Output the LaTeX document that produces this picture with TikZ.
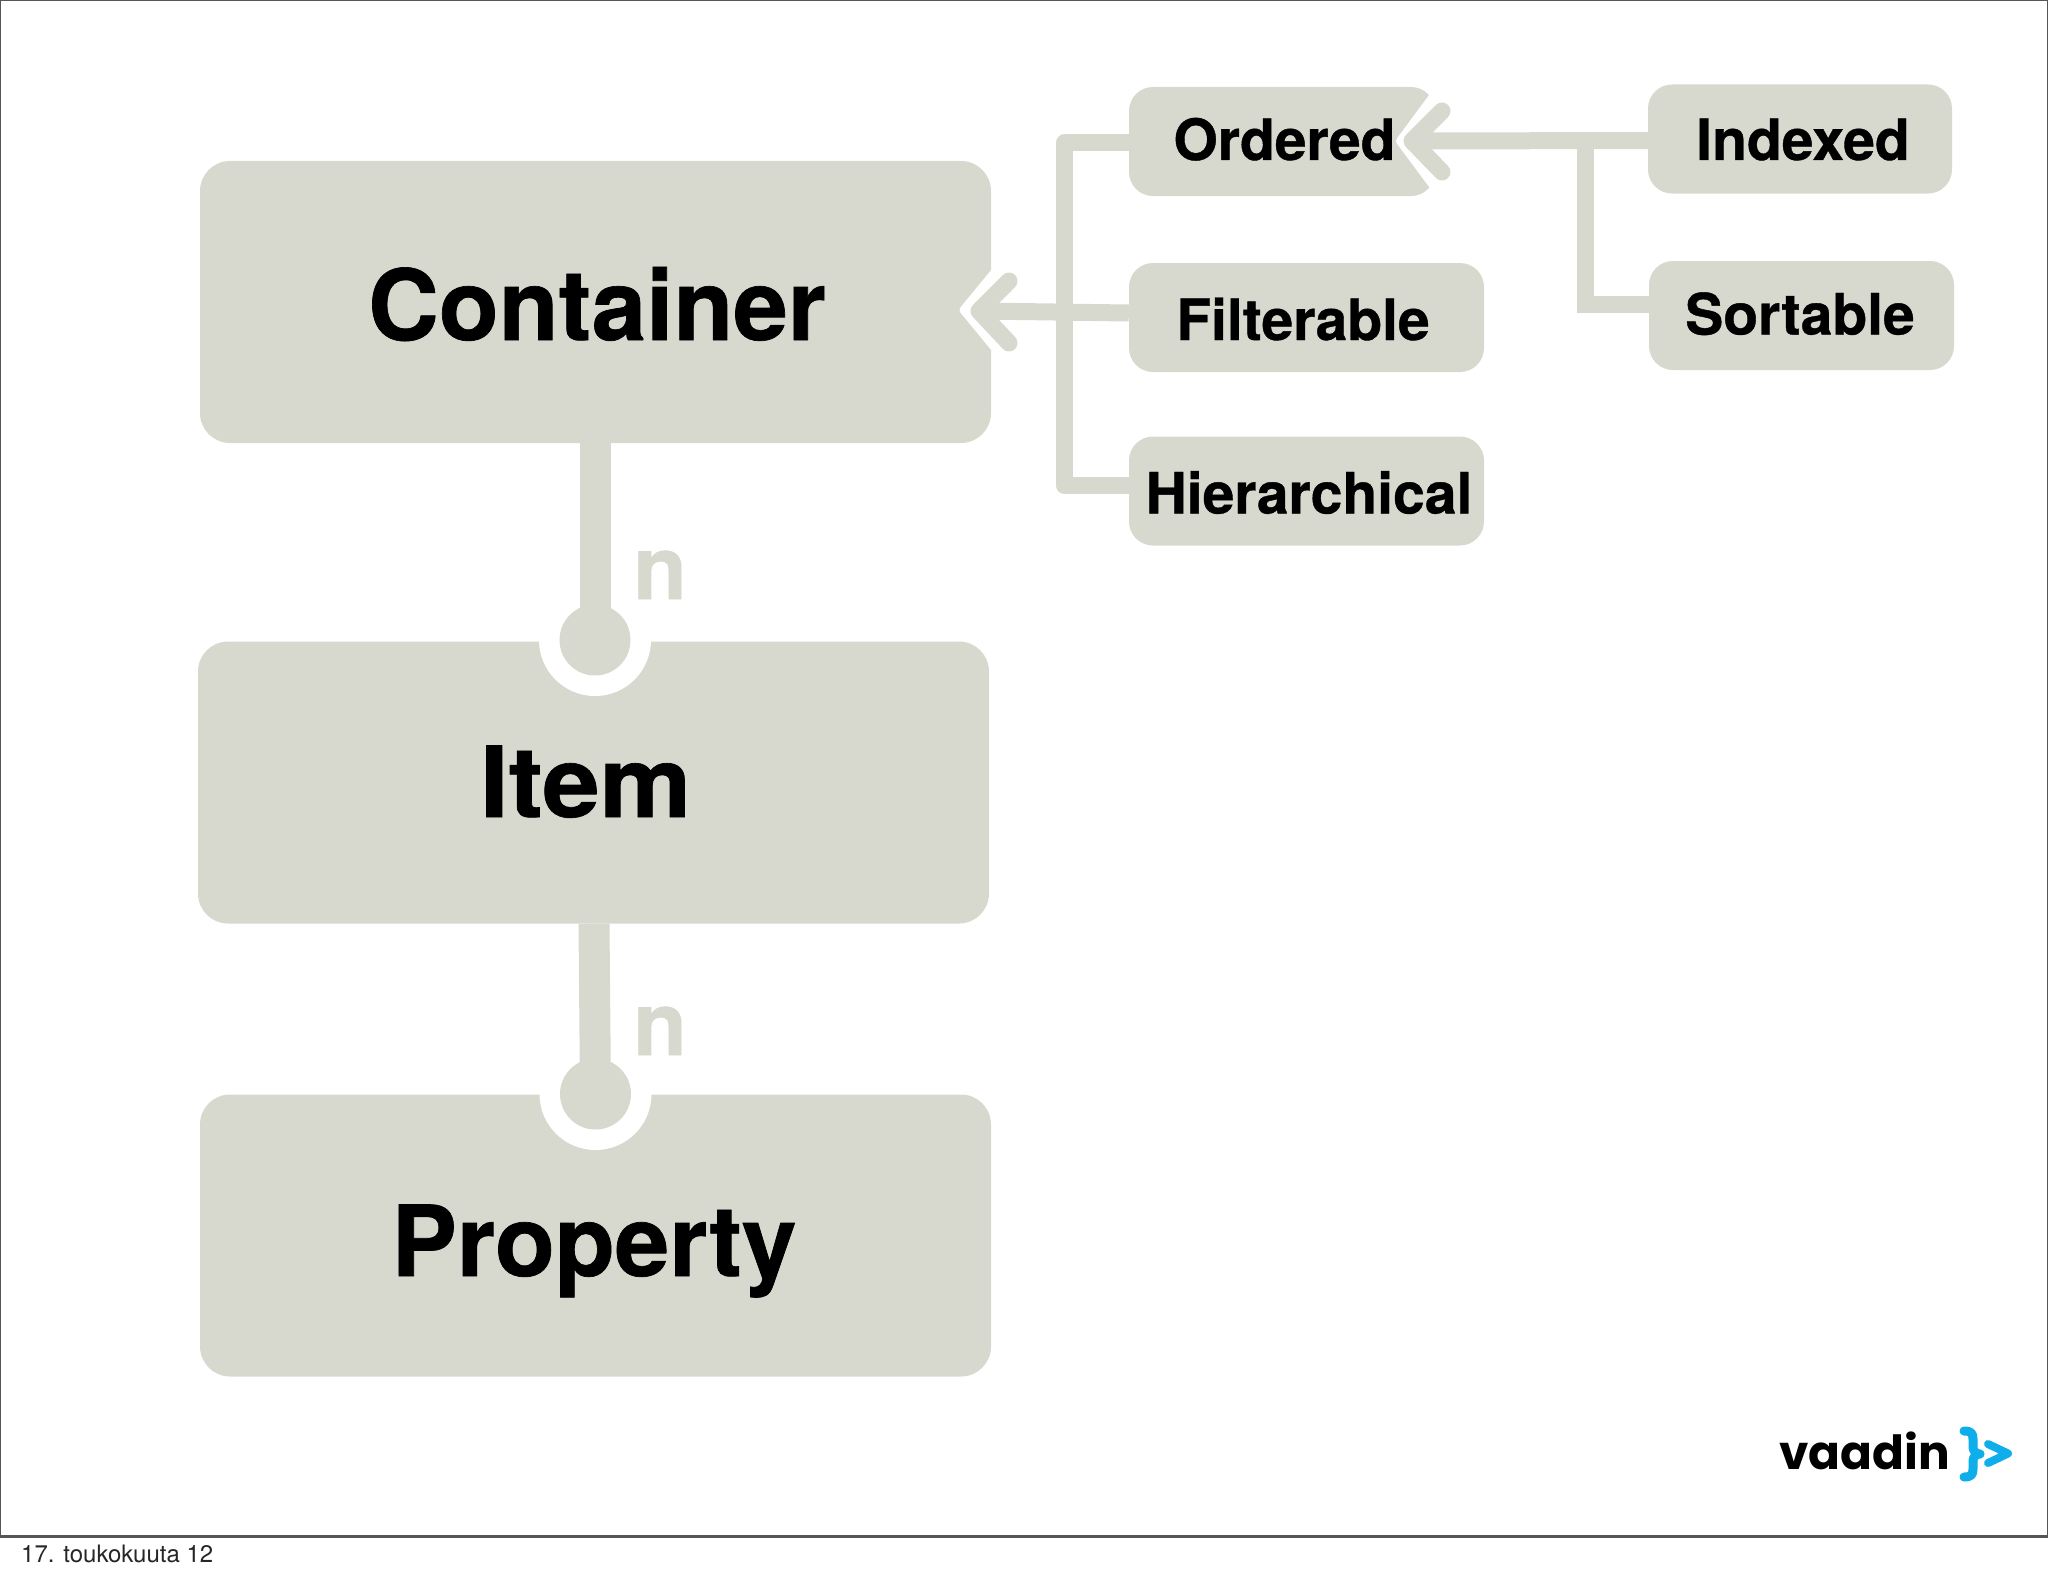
\documentclass[tikz,border=0pt]{standalone}
\usepackage{fontspec}
\usetikzlibrary{calc}
\setmainfont{TeX Gyre Heros}[BoldFeatures={FakeBold=0.7}]
\newfontfamily\logofont{Poppins}
\definecolor{boxc}{HTML}{D8D9CE}
\definecolor{framec}{HTML}{555555}
\definecolor{logoc}{HTML}{0EAEEA}
\tikzset{
  bigbox/.style={fill=boxc,rounded corners=30pt,inner sep=0pt,minimum width=791pt,minimum height=282pt},
  smallbox/.style={fill=boxc,rounded corners=24pt,inner sep=0pt,minimum height=109pt},
  biglabel/.style={anchor=base,inner sep=0pt,font=\fontsize{98}{98}\selectfont\bfseries},
  smalllabel/.style={anchor=base,inner sep=0pt,font=\fontsize{57}{57}\selectfont\bfseries},
  nlabel/.style={anchor=base,inner sep=0pt,text=boxc,font=\fontsize{88}{88}\selectfont\bfseries},
  conn/.style={draw=boxc,line width=17pt},
  thick conn/.style={draw=boxc,line width=31pt},
  head/.style={draw=boxc,line width=17pt,line cap=round,line join=round},
  halo/.style={fill=white,draw=white,line width=8pt,line join=round},
  dot/.style={circle,fill=boxc,inner sep=0pt,minimum size=71pt},
  dothalo/.style={circle,fill=white,inner sep=0pt,minimum size=112pt},
}
\begin{document}
\begin{tikzpicture}[x=1pt,y=-1pt]
\useasboundingbox (0,0) rectangle (2048,1576);
\fill[white] (0,0) rectangle (2048,1576);
\draw[framec,line width=2.5pt] (0,0) rectangle (2048,1536.5);

% boxes
\node[bigbox] (container) at (595.5,302) {};
\node[bigbox] (item) at (593.5,782.5) {};
\node[bigbox] (property) at (595.5,1235.5) {};
\node[smallbox,minimum width=306pt] (ordered) at (1282,141.5) {};
\node[smallbox,minimum width=355pt] (filterable) at (1306.5,317.5) {};
\node[smallbox,minimum width=355pt] (hierarchical) at (1306.5,491) {};
\node[smallbox,minimum width=304pt] (indexed) at (1800,139) {};
\node[smallbox,minimum width=305pt] (sortable) at (1801.5,315.5) {};

% anchors for the connector ends
\coordinate (dotA) at (595,640);
\coordinate (dotB) at (595.5,1094);
\coordinate (tipF) at (979,311);
\coordinate (tipO) at (1412,141);
\coordinate (jointL) at (1064.5,143);
\coordinate (jointLb) at (1064.5,485.5);
\coordinate (jointR) at (1585,139.5);
\coordinate (jointS) at (1585,304.5);

% containment: filled circle ends
\node[dothalo] (haloA) at (dotA) {};
\node[dothalo] (haloB) at (dotB) {};
\draw[thick conn] (container.south -| dotA) -- (dotA);
\draw[thick conn] ($(item.south -| dotB)+(-1.5,0)$) -- (dotB);
\node[dot] (endA) at (dotA) {};
\node[dot] (endB) at (dotB) {};
\node[nlabel] (nA) at (660,599) {n};
\node[nlabel] (nB) at (660,1055) {n};

% inheritance into Container
\filldraw[halo] (998,268) -- (963.5,310) -- (998,352) -- cycle;
\draw[conn] ($(filterable.west)+(0,-4.5)$) -- (tipF);
\draw[head] (1009,281) -- (tipF) -- (1009,343);
\draw[conn,line join=round] ($(ordered.west)+(0,1.5)$) -- (jointL) -- (jointLb) -- ($(hierarchical.west)+(0,-5.5)$);

% inheritance into Ordered
\filldraw[halo] (1440,87) -- (1400,141) -- (1440,195) -- cycle;
\draw[conn] ($(indexed.west)+(0,1.5)$) -- (tipO);
\draw[head] (1442,111) -- (tipO) -- (1442,172);
\draw[conn] (jointR) -- (jointS) -- (sortable.west |- jointS);

% labels
\node[biglabel] (tContainer) at (597,340) {Container};
\node[biglabel,xscale=1.05] (tItem) at (585.5,817) {Item};
\node[biglabel] (tProperty) at (594,1276) {Property};
\node[smalllabel] (tOrdered) at (1284.5,160) {Ordered};
\node[smalllabel] (tFilterable) at (1303,340) {Filterable};
\node[smalllabel] (tHierarchical) at (1309,513.5) {Hierarchical};
\node[smalllabel] (tIndexed) at (1803,160) {Indexed};
\node[smalllabel] (tSortable) at (1800,334.5) {Sortable};

% footer
\node[anchor=base west,inner sep=0pt,font=\fontsize{24}{24}\selectfont,text=black!85] (date) at (21,1562.5) {17. toukokuuta 12};

% logo
\node[anchor=base west,inner sep=0pt,font=\fontsize{47}{47}\selectfont\logofont\bfseries] (logo) at (1779,1469) {vaadin};
\draw[logoc,line width=9pt,line cap=round,line join=round]
  (1964,1431) .. controls (1971,1431) and (1973,1433) .. (1973,1439) -- (1973,1447)
  .. controls (1973,1451) and (1976,1454) .. (1980,1454)
  .. controls (1976,1454) and (1973,1457) .. (1973,1461) -- (1973,1469)
  .. controls (1973,1475) and (1971,1477) .. (1964,1477);
\draw[logoc,line width=8pt,line cap=round,line join=round] (1988,1444) -- (2008,1453.5) -- (1988,1463);
\end{tikzpicture}
\end{document}
